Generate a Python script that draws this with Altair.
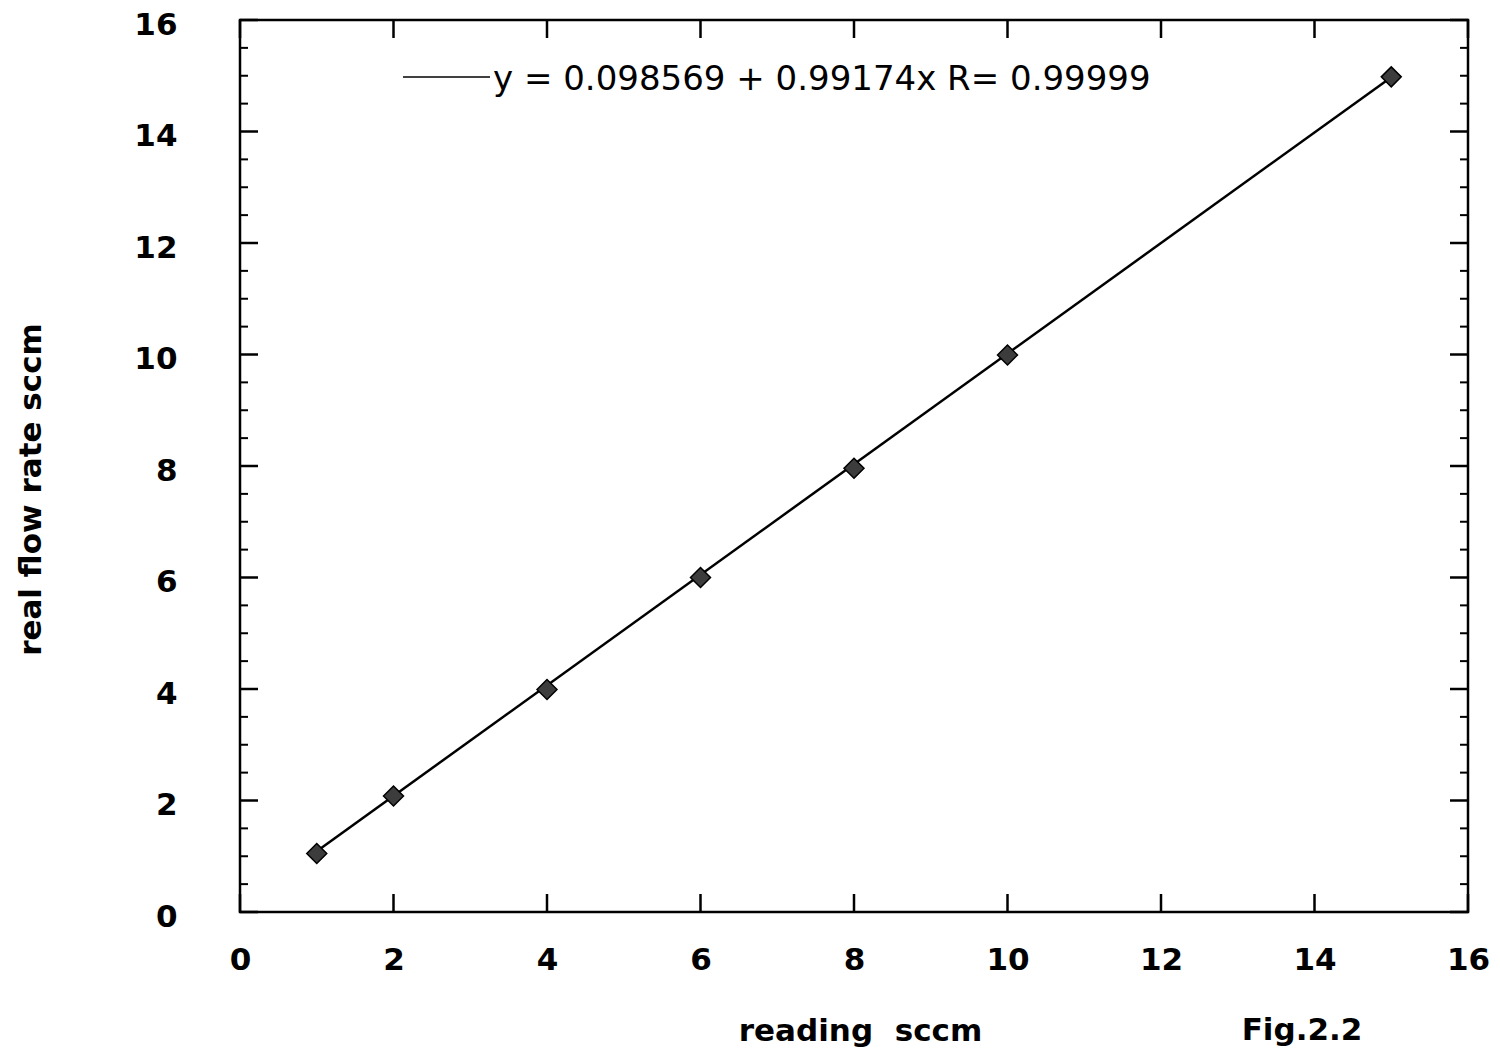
import altair as alt
import pandas as pd

# Flow-meter calibration: meter reading vs. real flow rate (sccm)
reading = [1, 2, 4, 6, 8, 10, 15]
real_flow = [1.05, 2.08, 3.99, 6.0, 7.96, 9.99, 14.98]

# Least-squares fit quoted on the chart
INTERCEPT = 0.098569
SLOPE = 0.99174
R_VALUE = 0.99999

# Axis tick positions
x_major = [0, 2, 4, 6, 8, 10, 12, 14, 16]
y_major = [0, 2, 4, 6, 8, 10, 12, 14, 16]
y_minor = [v / 2 for v in range(0, 33) if v % 4 != 0]

W, H = 1228, 892
FONT = "DejaVu Sans"

points = pd.DataFrame({"reading": reading, "real": real_flow})
fit = pd.DataFrame({"reading": [min(reading), max(reading)]})
fit["real"] = INTERCEPT + SLOPE * fit["reading"]
note = pd.DataFrame({
    "label": [f"y = {INTERCEPT} + {SLOPE}x R= {R_VALUE}"],
    "fig": ["Fig.2.2"],
})

xscale = alt.Scale(domain=[0, 16], nice=False, zero=False)
yscale = alt.Scale(domain=[0, 16], nice=False, zero=False)

x_axis = alt.Axis(
    values=x_major, format="d", ticks=False, domain=False, grid=False,
    labelFont=FONT, labelFontSize=31, labelFontWeight="bold", labelColor="black",
    labelPadding=33, labelFlush=False,
    title="reading\u00a0 sccm", titleFont=FONT, titleFontSize=31,
    titleFontWeight="bold", titleColor="black",
    titleX=620, titleY=128, titleAlign="center", titleBaseline="alphabetic",
)
y_axis = alt.Axis(
    values=y_major, format="d", ticks=False, domain=False, grid=False,
    labelFont=FONT, labelFontSize=31, labelFontWeight="bold", labelColor="black",
    labelPadding=63, labelFlush=False, labelOffset=5,
    title="real flow rate sccm", titleFont=FONT, titleFontSize=31,
    titleFontWeight="bold", titleColor="black",
    titleX=-209, titleY=469, titleAngle=-90, titleAlign="center",
    titleBaseline="middle",
)

line = alt.Chart(fit).mark_line(color="black", strokeWidth=2.5).encode(
    x=alt.X("reading:Q", scale=xscale, axis=x_axis),
    y=alt.Y("real:Q", scale=yscale, axis=y_axis),
)

dots = alt.Chart(points).mark_point(
    shape="diamond", filled=True, size=400, fill="#3c3c3c",
    stroke="black", strokeWidth=1.5, opacity=1,
).encode(
    x=alt.X("reading:Q", scale=xscale),
    y=alt.Y("real:Q", scale=yscale),
)

# Inward-pointing frame ticks
def xticks(vals, y0, y1):
    return alt.Chart(pd.DataFrame({"v": vals})).mark_rule(
        color="black", strokeWidth=2.5
    ).encode(
        x=alt.X("v:Q", scale=xscale),
        y=alt.value(y0), y2=alt.value(y1),
    )


def yticks(vals, x0, x1, width):
    return alt.Chart(pd.DataFrame({"v": vals})).mark_rule(
        color="black", strokeWidth=width
    ).encode(
        y=alt.Y("v:Q", scale=yscale),
        x=alt.value(x0), x2=alt.value(x1),
    )


ticks = [
    xticks(x_major, H, H - 18),
    xticks(x_major, 0, 18),
    yticks(y_major, 0, 18, 2.5),
    yticks(y_minor, 0, 8, 2),
    yticks(y_major, W, W - 18, 2.5),
    yticks(y_minor, W, W - 8, 2),
]

key_line = alt.Chart(note).mark_rule(color="black", strokeWidth=1.5).encode(
    x=alt.value(163), x2=alt.value(250), y=alt.value(57),
)
key_text = alt.Chart(note).mark_text(
    font=FONT, fontSize=34, align="left", baseline="middle", color="black",
).encode(
    x=alt.value(253), y=alt.value(60), text="label:N",
)
fig_text = alt.Chart(note).mark_text(
    font=FONT, fontSize=31, fontWeight="bold", align="center",
    baseline="alphabetic", color="black",
).encode(
    x=alt.value(1062), y=alt.value(1020), text="fig:N",
)

chart = alt.layer(line, dots, *ticks, key_line, key_text, fig_text).properties(
    width=W, height=H,
    autosize=alt.AutoSizeParams(type="none"),
    padding={"left": 240, "top": 20, "right": 32, "bottom": 142},
    background="white",
).configure_view(
    stroke="black", strokeWidth=2.5,
)

chart.save("out.html", embed_options={"renderer": "svg", "actions": False})
